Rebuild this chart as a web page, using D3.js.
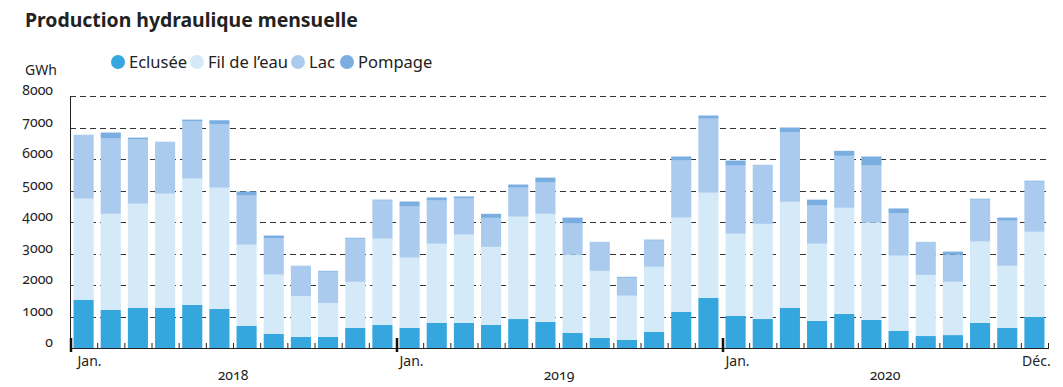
<!DOCTYPE html>
<html>
<head>
<meta charset="utf-8">
<script src="https://cdn.jsdelivr.net/npm/d3@7"></script>
<style>
  body { margin: 0; background: #fff; }
  svg text { font-family: "Noto Sans", sans-serif; fill: #222; }
  .num { font-variant-numeric: oldstyle-nums; }
</style>
</head>
<body>
<div class="canvas"></div>
<script>
// monthly data, Jan 2018 -> Dec 2020 (GWh)
const months = ["Jan.", "Fév.", "Mars", "Avr.", "Mai", "Juin", "Juil.", "Août", "Sept.", "Oct.", "Nov.", "Déc."];
const years = ["2018", "2019", "2020"];
const seriesNames = ["Eclusée", "Fil de l’eau", "Lac", "Pompage"];

const eclusee = [1530, 1210, 1270, 1270, 1370, 1240, 700, 450, 350, 350, 640, 730,
                 640, 800, 800, 730, 920, 830, 480, 320, 260, 510, 1150, 1590,
                 1020, 920, 1270, 860, 1080, 890, 540, 380, 410, 800, 640, 990];
const filEau  = [3210, 3050, 3310, 3630, 4010, 3850, 2580, 1880, 1300, 1080, 1460, 2740,
                 2230, 2510, 2800, 2480, 3250, 3430, 2480, 2130, 1400, 2070, 2990, 3340,
                 2610, 3020, 3370, 2450, 3370, 3090, 2390, 1940, 1690, 2580, 1970, 2700];
const lac     = [2030, 2390, 2040, 1650, 1810, 2020, 1560, 1160, 950, 990, 1370, 1210,
                 1620, 1370, 1150, 920, 920, 990, 990, 920, 570, 830, 1810, 2350,
                 2160, 1880, 2200, 1210, 1650, 1810, 1340, 1050, 860, 1330, 1430, 1590];
const pompage = [0, 190, 60, 0, 60, 120, 130, 80, 10, 30, 30, 30,
                 160, 100, 60, 130, 100, 160, 190, 0, 30, 30, 130, 100,
                 160, 0, 160, 190, 160, 290, 160, 0, 100, 30, 100, 30];
const yTicks = [0, 1000, 2000, 3000, 4000, 5000, 6000, 7000, 8000];

const colors = ["#36a6de", "#d4eaf8", "#aacbee", "#7aaee0"];

const width = 1063, height = 387;
const svg = d3.select(".canvas")
              .append("svg")
              .attr("width", width)
              .attr("height", height);

const plotLeft = 70, plotRight = 1048, plotTop = 96, plotBottom = 348;

// build table for the stack
const table = eclusee.map((v, i) => ({
  i: i,
  "Eclusée": v,
  "Fil de l’eau": filEau[i],
  "Lac": lac[i],
  "Pompage": pompage[i]
}));

const x = d3.scaleBand()
            .domain(table.map(d => d.i))
            .range([plotLeft, plotRight])
            .paddingInner(0.26)
            .paddingOuter(0.13);

const y = d3.scaleLinear()
            .domain([0, 8000])
            .range([plotBottom, plotTop]);

const color = d3.scaleOrdinal().domain(seriesNames).range(colors);

// title
svg.append("text")
   .attr("x", 25).attr("y", 27)
   .attr("font-size", 19.4).attr("font-weight", "bold")
   .text("Production hydraulique mensuelle");

svg.append("text")
   .attr("x", 25).attr("y", 75)
   .attr("font-size", 14)
   .text("GWh");

// legend
const legendX = [118, 197, 298, 347];
const legend = svg.append("g");
seriesNames.forEach((name, k) => {
  legend.append("circle")
        .attr("cx", legendX[k]).attr("cy", 62).attr("r", 7)
        .attr("fill", color(name));
  legend.append("text")
        .attr("x", legendX[k] + 11).attr("y", 68)
        .attr("font-size", 16.5)
        .text(name);
});

// gridlines
svg.append("g")
   .selectAll("line")
   .data(yTicks.filter(t => t > 0))
   .enter()
   .append("line")
   .attr("x1", plotLeft).attr("x2", plotRight)
   .attr("y1", d => Math.round(y(d)) + 0.5)
   .attr("y2", d => Math.round(y(d)) + 0.5)
   .attr("stroke", "#333")
   .attr("stroke-dasharray", "6,4");

// y labels
svg.append("g")
   .selectAll("text")
   .data(yTicks)
   .enter()
   .append("text")
   .attr("class", "num")
   .attr("x", 53)
   .attr("y", d => y(d) - 1)
   .attr("text-anchor", "end")
   .attr("font-size", 14)
   .text(d => d);

// stacked bars
const stack = d3.stack().keys(seriesNames)(table);
svg.append("g")
   .selectAll("g")
   .data(stack)
   .enter()
   .append("g")
   .attr("fill", d => color(d.key))
   .selectAll("rect")
   .data(d => d)
   .enter()
   .append("rect")
   .attr("x", d => x(d.data.i))
   .attr("width", x.bandwidth())
   .attr("y", d => y(d[1]))
   .attr("height", d => y(d[0]) - y(d[1]));

// month boundaries ticks
const edge = d3.scaleLinear().domain([0, 36]).range([plotLeft, plotRight]);
svg.append("g")
   .attr("transform", `translate(0,${plotBottom})`)
   .call(d3.axisTop(edge).tickValues(d3.range(0, 37)).tickSize(5).tickFormat(""))
   .call(g => g.select(".domain").remove())
   .selectAll("line").attr("stroke", "#222");

// left axis + baseline
svg.append("line")
   .attr("x1", plotLeft + 0.5).attr("x2", plotLeft + 0.5)
   .attr("y1", Math.round(y(8000)) + 0.5).attr("y2", plotBottom)
   .attr("stroke", "#222");
svg.append("line")
   .attr("x1", plotLeft).attr("x2", plotRight + 1)
   .attr("y1", plotBottom + 0.5).attr("y2", plotBottom + 0.5)
   .attr("stroke", "#222").attr("stroke-width", 1.2);

// year ticks
svg.append("g")
   .selectAll("line")
   .data([0, 12, 24])
   .enter()
   .append("line")
   .attr("x1", d => edge(d) + 1).attr("x2", d => edge(d) + 1)
   .attr("y1", plotBottom - 10).attr("y2", plotBottom + 4)
   .attr("stroke", "#111").attr("stroke-width", 2.5);

// month labels (first one sits a bit right of its bar)
const monthLabels = [{i: 0, t: months[0], dx: 6}, {i: 12, t: months[0], dx: 2},
                     {i: 24, t: months[0], dx: 2}, {i: 35, t: months[11], dx: 2}];
svg.append("g")
   .selectAll("text")
   .data(monthLabels)
   .enter()
   .append("text")
   .attr("x", d => x(d.i) + x.bandwidth() / 2 + d.dx)
   .attr("y", 366)
   .attr("text-anchor", "middle")
   .attr("font-size", 14)
   .text(d => d.t);

// year labels
svg.append("g")
   .selectAll("text")
   .data(years)
   .enter()
   .append("text")
   .attr("class", "num")
   .attr("x", (d, k) => edge(k * 12 + 6))
   .attr("y", 380)
   .attr("text-anchor", "middle")
   .attr("font-size", 14)
   .text(d => d);
</script>
</body>
</html>
